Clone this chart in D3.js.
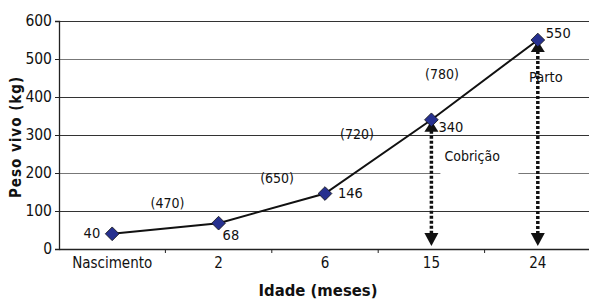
<!DOCTYPE html>
<html>
<head>
<meta charset="utf-8">
<script src="https://cdn.jsdelivr.net/npm/d3@7"></script>
<style>
  body { margin: 0; background: #fff; }
  svg text { font-family: "DejaVu Sans Condensed", "Liberation Sans Narrow", sans-serif; font-stretch: condensed; fill: #111; }
</style>
</head>
<body>
<div id="chart"></div>
<script>
// data
var idades = ['Nascimento', '2', '6', '15', '24'];
var pesos = [40, 68, 146, 340, 550];
var ganhos = ['(470)', '(650)', '(720)', '(780)'];   // labels between points
var yTicks = [0, 100, 200, 300, 400, 500, 600];
var eventos = [{ idade: '15', nome: 'Cobrição' }, { idade: '24', nome: 'Parto' }];

var w = 589, h = 302;
var margin = { top: 21, right: -2, bottom: 53, left: 59 };
var width = w - margin.left - margin.right;
var height = h - margin.top - margin.bottom;

var svg = d3.select('#chart').append('svg').attr('width', w).attr('height', h);
var g = svg.append('g').attr('transform', 'translate(' + margin.left + ',' + margin.top + ')');

var xScale = d3.scaleBand().domain(idades).range([0, width]);
var yScale = d3.scaleLinear().domain([0, 600]).range([height, 0]);
var cx = function (k) { return xScale(k) + xScale.bandwidth() / 2; };
var bw = xScale.bandwidth();

// horizontal gridlines
g.selectAll('.grid').data(yTicks.slice(1)).enter().append('line')
    .attr('x1', 0).attr('x2', width)
    .attr('y1', function (d) { return Math.round(yScale(d)) + 0.5; })
    .attr('y2', function (d) { return Math.round(yScale(d)) + 0.5; })
    .attr('stroke', function (d) { return (d == 500 || d == 200) ? '#777' : '#333'; })
    .attr('stroke-width', 1.2);

// y axis
var yAxis = g.append('g').call(d3.axisLeft(yScale).tickValues(yTicks).tickSize(4).tickPadding(3));
yAxis.select('.domain').attr('stroke', '#222').attr('stroke-width', 1.3);
yAxis.selectAll('.tick line').attr('stroke', '#222');
yAxis.selectAll('text').style('font-size', '15.5px').attr('fill', '#111');

// x axis, ticks at the category boundaries
var xAxis = g.append('g').attr('transform', 'translate(0,' + height + ')')
    .call(d3.axisBottom(xScale).tickSize(0).tickPadding(8));
xAxis.select('.domain').attr('stroke', '#222').attr('stroke-width', 1.3);
xAxis.selectAll('text').style('font-size', '15px').attr('fill', '#111');
g.selectAll('.xtick').data(idades.slice(1).concat([null])).enter().append('line')
    .attr('x1', function (d) { return d ? xScale(d) : width; })
    .attr('x2', function (d) { return d ? xScale(d) : width; })
    .attr('y1', height).attr('y2', height + 4)
    .attr('stroke', '#222');

// white box behind "Cobrição" breaks the 200 gridline
g.append('rect')
    .attr('x', cx('15') + 9).attr('y', yScale(200) - 3)
    .attr('width', 78).attr('height', 6).attr('fill', '#fff');

// event arrows (dotted, pointing up to the point and down to the axis)
eventos.forEach(function (e) {
    var i = idades.indexOf(e.idade);
    var x = cx(e.idade), yTop = yScale(pesos[i]) + 1, yBot = height - 3;
    g.append('line').attr('x1', x).attr('x2', x)
        .attr('y1', yTop + 10).attr('y2', yBot - 12)
        .attr('stroke', '#111').attr('stroke-width', 3.5).attr('stroke-dasharray', '3,2');
    g.append('path').attr('d', 'M' + x + ',' + yTop + 'l7,11h-14z').attr('fill', '#111');
    g.append('path').attr('d', 'M' + x + ',' + yBot + 'l7,-13h-14z').attr('fill', '#111');
});

// line
var line = d3.line().x(function (d, i) { return cx(idades[i]); }).y(function (d) { return yScale(d); });
g.append('path').datum(pesos).attr('d', line)
    .attr('fill', 'none').attr('stroke', '#111').attr('stroke-width', 2);

// diamond markers
g.selectAll('.pt').data(pesos).enter().append('path')
    .attr('d', d3.symbol().type(d3.symbolDiamond2).size(120))
    .attr('transform', function (d, i) { return 'translate(' + cx(idades[i]) + ',' + yScale(d) + ')'; })
    .attr('fill', '#26308f').attr('stroke', '#111').attr('stroke-width', 0.8);

// value labels
var valOffsets = [[-12, 4, 'end'], [4, 17, 'start'], [13, 4, 'start'], [7, 12, 'start'], [8, -2, 'start']];
g.selectAll('.val').data(pesos).enter().append('text')
    .attr('x', function (d, i) { return cx(idades[i]) + valOffsets[i][0]; })
    .attr('y', function (d, i) { return yScale(d) + valOffsets[i][1]; })
    .attr('text-anchor', function (d, i) { return valOffsets[i][2]; })
    .style('font-size', '14.5px')
    .text(function (d) { return d; });

// growth labels between points (position in bands, value units)
var ganhoPos = [[1.02, 108], [2.05, 174], [2.8, 289], [3.6, 447]];
g.selectAll('.gain').data(ganhos).enter().append('text')
    .attr('x', function (d, i) { return bw * ganhoPos[i][0]; })
    .attr('y', function (d, i) { return yScale(ganhoPos[i][1]); })
    .attr('text-anchor', 'middle')
    .style('font-size', '14px')
    .text(function (d) { return d; });

// event names
g.append('text').attr('x', cx('15') + 13).attr('y', yScale(200) - 12)
    .style('font-size', '14px').text('Cobrição');
g.append('text').attr('x', cx('24') + 8).attr('y', yScale(550) + 42)
    .attr('text-anchor', 'middle')
    .style('font-size', '14.5px').text('Parto');

// axis titles
svg.append('text').attr('x', 318).attr('y', 296)
    .attr('text-anchor', 'middle').style('font-size', '16.5px').style('font-weight', 'bold')
    .text('Idade (meses)');
svg.append('text').attr('transform', 'translate(21,137) rotate(-90)')
    .attr('text-anchor', 'middle').style('font-size', '15px').style('font-weight', 'bold')
    .style('letter-spacing', '1px')
    .text('Peso vivo (kg)');
</script>
</body>
</html>
